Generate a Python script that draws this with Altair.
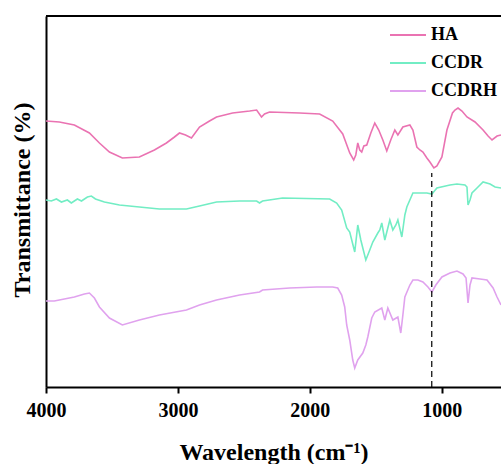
import altair as alt
import pandas as pd

series_names = ["HA", "CCDR", "CCDRH"]
series_colors = ["#EA73B2", "#72EDC4", "#E0A2EE"]

ha_wn = [4000, 3899, 3785, 3671, 3595, 3519, 3421, 3292, 3178, 3087, 3026, 2988, 2942, 2897,
         2836, 2760, 2707, 2585, 2456, 2403, 2366, 2343, 2305, 2077, 1925, 1826, 1750, 1697,
         1667, 1651, 1636, 1621, 1606, 1590, 1568, 1537, 1507, 1477, 1446, 1416, 1386, 1355,
         1332, 1294, 1241, 1218, 1188, 1165, 1142, 1112, 1089, 1059, 1036, 998, 960, 918, 899,
         876, 846, 808, 747, 686, 648, 618, 580, 550]
ha_t = [266, 265, 262, 254, 244, 235, 229, 230, 237, 244, 250, 254, 252, 249,
        260, 266, 270, 274, 276, 277, 270, 273, 275, 274, 273, 266, 253, 234,
        227, 232, 244, 237, 235, 241, 242, 254, 264, 257, 247, 236, 247, 257,
        252, 260, 262, 257, 240, 237, 235, 229, 225, 219, 221, 230, 257, 274, 277,
        279, 276, 270, 265, 257, 251, 247, 251, 252]

ccdr_wn = [4000, 3960, 3921, 3883, 3838, 3808, 3762, 3731, 3686, 3656, 3625, 3557, 3443, 3292,
           3140, 2935, 2836, 2707, 2532, 2403, 2381, 2358, 2206, 1849, 1796, 1758, 1720, 1697,
           1659, 1636, 1613, 1575, 1545, 1522, 1484, 1469, 1454, 1431, 1393, 1370, 1347, 1332,
           1302, 1279, 1264, 1218, 1165, 1112, 1074, 1036, 937, 884, 823, 808, 800, 785, 770,
           732, 686, 633, 595, 550]
ccdr_t = [187, 186, 188, 185, 187, 184, 188, 186, 190, 191, 188, 185, 182, 180,
          178, 178, 181, 185, 186, 186, 184, 186, 189, 188, 184, 177, 159, 155,
          135, 162, 147, 127, 137, 145, 154, 157, 164, 147, 167, 157, 162, 167,
          150, 172, 180, 194, 194, 194, 193, 199, 202, 203, 202, 200, 182, 187, 194,
          199, 205, 203, 200, 199]

ccdrh_wn = [4000, 3937, 3861, 3785, 3709, 3671, 3633, 3595, 3519, 3421, 3292, 3140, 2935, 2836,
            2707, 2532, 2381, 2358, 2153, 1947, 1826, 1788, 1758, 1735, 1720, 1697, 1674, 1659,
            1636, 1598, 1575, 1560, 1530, 1507, 1454, 1431, 1408, 1370, 1332, 1310, 1294, 1279,
            1241, 1218, 1180, 1142, 1104, 1074, 1044, 998, 937, 884, 838, 815, 800, 785, 770,
            709, 656, 610, 580, 550]
ccdrh_t = [86, 86, 88, 90, 93, 94, 89, 80, 69, 62, 67, 72, 77, 82,
           87, 92, 95, 97, 99, 100, 100, 99, 92, 80, 62, 47, 27, 19,
           27, 34, 42, 50, 69, 75, 79, 67, 79, 67, 70, 54, 72, 90,
           102, 107, 107, 105, 100, 95, 102, 110, 114, 116, 113, 109, 84, 102, 109,
           108, 107, 99, 90, 82]

x_ticks = [4000, 3000, 2000, 1000]
x_domain = [4000, 550]
y_domain = [0, 371]
marker_wn = [1075]
marker_top = [214]

rows = []
for name, wn, t in [("HA", ha_wn, ha_t), ("CCDR", ccdr_wn, ccdr_t), ("CCDRH", ccdrh_wn, ccdrh_t)]:
    for i, (w, v) in enumerate(zip(wn, t)):
        rows.append({"series": name, "wn": w, "t": v, "order": i})
df = pd.DataFrame(rows)
marker_df = pd.DataFrame({"wn": marker_wn, "y0": [0], "y1": marker_top})
frame_df = pd.DataFrame({"xa": [x_domain[0]], "xb": [x_domain[1]],
                         "ya": [y_domain[1] + 1], "yb": [y_domain[1] - 1]})

W, H = 455, 371
FONT = "Liberation Serif"

xscale = alt.Scale(domain=x_domain, nice=False, zero=False)
yscale = alt.Scale(domain=y_domain, nice=False, zero=False)

lines = alt.Chart(df).mark_line(strokeWidth=1.6, clip=True).encode(
    x=alt.X("wn:Q", scale=xscale,
            axis=alt.Axis(values=x_ticks, title="Wavelength (cm⁻¹)", grid=False,
                          format="d", tickSize=6, tickWidth=2, tickColor="black",
                          domainColor="black", domainWidth=2,
                          labelFont=FONT, labelFontSize=20, labelFontWeight="bold",
                          labelColor="black", labelPadding=7, labelFlush=False,
                          titleFont=FONT, titleFontSize=24, titleFontWeight="bold",
                          titleColor="black", titleY=65, titleBaseline="middle")),
    y=alt.Y("t:Q", scale=yscale,
            axis=alt.Axis(title="Transmittance (%)", ticks=False, labels=False, grid=False,
                          domainColor="black", domainWidth=2,
                          titleFont=FONT, titleFontSize=24, titleFontWeight="bold",
                          titleColor="black", titleAngle=270, titleX=-24, titleY=H / 2 - 2,
                          titleBaseline="middle", titleAlign="center")),
    color=alt.Color("series:N",
                    scale=alt.Scale(domain=series_names, range=series_colors),
                    legend=alt.Legend(title=None, orient="none", legendX=343, legendY=0,
                                      symbolType="stroke", symbolSize=1296,
                                      symbolStrokeWidth=2, labelFont=FONT,
                                      labelFontSize=18, labelFontWeight="bold",
                                      labelColor="black", labelOffset=4, rowPadding=-3)),
    order="order:Q",
)

dash = alt.Chart(marker_df).mark_rule(color="black", strokeWidth=1.2, strokeDash=[6, 4]).encode(
    x=alt.X("wn:Q", scale=xscale),
    y=alt.Y("y0:Q", scale=yscale),
    y2="y1:Q",
)

top = alt.Chart(frame_df).mark_rect(color="black", opacity=1).encode(
    x=alt.X("xa:Q", scale=xscale),
    x2="xb:Q",
    y=alt.Y("ya:Q", scale=yscale),
    y2="yb:Q",
)

chart = alt.layer(lines, dash, top).properties(
    width=W, height=H,
    autosize=alt.AutoSizeParams(type="none"),
    padding={"left": 46, "top": 16, "right": 0, "bottom": 77},
).configure_view(stroke=None)

chart.save("out.html", embed_options={"renderer": "svg", "actions": False})
